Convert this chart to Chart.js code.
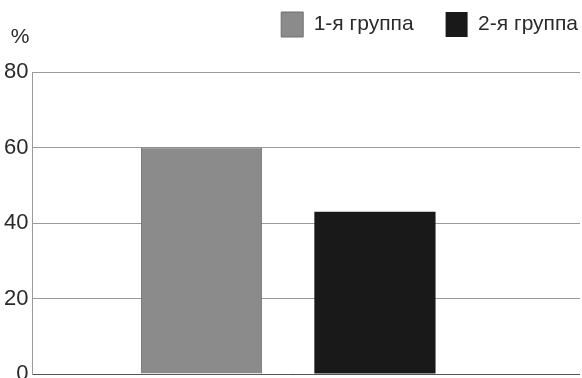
<!DOCTYPE html>
<html>
<head>
<meta charset="utf-8">
<script src="https://cdn.jsdelivr.net/npm/chart.js@4/dist/chart.umd.min.js"></script>
<style>
  html, body { margin: 0; padding: 0; background: #fff; }
  #wrap { width: 582px; height: 378px; position: relative; }
</style>
</head>
<body>
<div id="wrap"><canvas id="chart"></canvas></div>
<script>
const categories = [''];
const seriesNames = ['1-я группа', '2-я группа'];
const group1 = [60];
const group2 = [43];
const yTicks = [0, 20, 40, 60, 80];
const unitLabel = '%';

const palette = {
    grey: '#8b8b8b',
    black: '#191919',
    grid: '#9a9a9a',
    axis: '#555555',
    text: '#2a2a2a',
};
const fontFamily = '"Liberation Sans", Arial, sans-serif';

// legend block is made taller so the plot starts lower, and nudged up/right
const legendSpace = {
    id: 'legendSpace',
    beforeInit(chart) {
        const fit = chart.legend.fit;
        chart.legend.fit = function () {
            fit.call(this);
            this.height = 72;
        };
    },
    afterLayout(chart) {
        chart.legend.left += 28;
        chart.legend.right += 28;
        chart.legend.top -= 20;
        chart.legend.bottom -= 20;
    },
};

// y grid lines run on to the right edge of the canvas, past the chart area
const gridExtend = {
    id: 'gridExtend',
    afterDraw(chart) {
        const { ctx, chartArea, scales } = chart;
        ctx.save();
        ctx.lineWidth = 1;
        yTicks.forEach(function (v) {
            const y = Math.round(scales.y.getPixelForValue(v) - 0.5) + 0.5;
            ctx.strokeStyle = v === 0 ? palette.axis : palette.grid;
            ctx.beginPath();
            ctx.moveTo(chartArea.right - 1, y);
            ctx.lineTo(chart.width - 2, y);
            ctx.stroke();
        });
        ctx.fillStyle = palette.text;
        ctx.font = '21px ' + fontFamily;
        ctx.textAlign = 'center';
        ctx.textBaseline = 'alphabetic';
        ctx.fillText(unitLabel, scales.y.left + 20, chartArea.top - 29);
        ctx.restore();
    },
};

new Chart(document.getElementById('chart'), {
    type: 'bar',
    data: {
        labels: categories,
        datasets: [{
            label: seriesNames[0],
            data: group1,
            backgroundColor: palette.grey,
            borderColor: '#6f6f6f',
            borderWidth: 1,
            borderSkipped: 'bottom',
        }, {
            label: seriesNames[1],
            data: group2,
            backgroundColor: palette.black,
            borderWidth: 0,
        }],
    },
    options: {
        responsive: true,
        maintainAspectRatio: false,
        animation: false,
        layout: { padding: { left: 0, right: 0, top: 0, bottom: 4 } },
        datasets: {
            bar: { categoryPercentage: 0.678, barPercentage: 0.699 },
        },
        plugins: {
            legend: {
                position: 'top',
                align: 'end',
                labels: {
                    boxWidth: 22,
                    boxHeight: 25,
                    padding: 32,
                    color: palette.text,
                    font: { family: fontFamily, size: 21 },
                },
            },
            tooltip: { enabled: false },
        },
        scales: {
            x: {
                grid: { display: false, drawTicks: false },
                border: { display: true, color: palette.axis, width: 1 },
                ticks: { display: false },
            },
            y: {
                min: 0,
                max: 80,
                afterBuildTicks(scale) {
                    scale.ticks = yTicks.map(function (v) { return { value: v }; });
                },
                afterFit(scale) {
                    scale.paddingTop = 0;
                    scale.paddingBottom = 0;
                },
                grid: { color: palette.grid, drawTicks: false },
                border: { display: true, color: palette.grid, width: 1 },
                ticks: {
                    padding: 4,
                    color: palette.text,
                    font: { family: fontFamily, size: 22 },
                },
            },
            yRight: {
                position: 'right',
                min: 0,
                max: 80,
                grid: { display: false, drawTicks: false },
                border: { display: false },
                ticks: { display: false },
                afterFit(scale) {
                    scale.width = 38;
                    scale.paddingTop = 0;
                    scale.paddingBottom = 0;
                },
            },
        },
    },
    plugins: [legendSpace, gridExtend],
});
</script>
</body>
</html>
